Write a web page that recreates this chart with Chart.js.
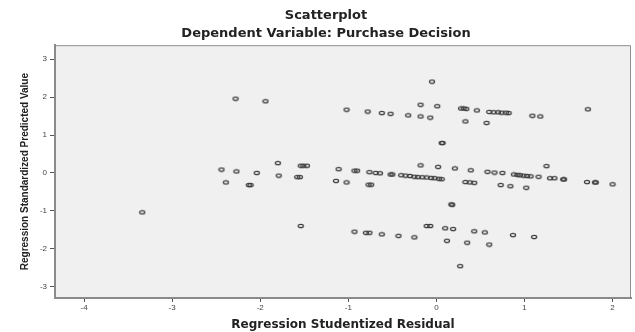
<!DOCTYPE html>
<html>
<head>
<meta charset="utf-8">
<script src="https://cdn.jsdelivr.net/npm/chart.js@4"></script>
<style>
  html, body { margin: 0; padding: 0; background: #fff; }
  canvas { display: block; }
</style>
</head>
<body>
<canvas id="scatter" width="635" height="332"></canvas>
<script>
// Regression Studentized Residual (x) vs Regression Standardized Predicted Value (y)
const residuals = [
  -3.34, -2.28, -2.44, -2.27, -2.04, -2.39, -2.13, -2.11, -1.94, -1.80,
  -1.54, -1.51, -1.47, -1.79, -1.58, -1.55, -1.54,
  -1.02, -0.78, -1.11, -0.93, -0.90, -0.76, -0.69, -1.14, -1.02, -0.77,
  -0.74, -0.93, -0.80, -0.76,
  -0.05, -0.18, 0.01, -0.62, -0.52, -0.32, -0.18, -0.07, 0.28, 0.31,
  0.34, 0.46, 0.33, 0.06, 0.07, -0.18, 0.02, 0.21, 0.39, -0.64,
  -0.52, -0.50, -0.40, -0.35, -0.30, -0.25, -0.21, -0.16, -0.11, -0.06,
  -0.02, 0.03, 0.06, 0.33, 0.38, 0.43, 0.17, 0.18, -0.62, -0.43,
  -0.25, -0.11, -0.07, 0.10, 0.19, 0.43, 0.12, 0.35, 0.27,
  0.60, 0.65, 0.70, 0.74, 0.79, 0.82, 1.09, 1.18, 0.57, 1.25,
  0.58, 0.66, 0.75, 0.88, 0.92, 0.95, 0.99, 1.03, 1.07, 1.16,
  1.29, 1.34, 1.44, 1.45, 0.73, 0.84, 1.02, 0.55, 0.87, 1.11, 0.60,
  1.72, 1.71, 1.80, 1.81, 2.00
];
const predicted = [
  -1.04, 1.96, 0.09, 0.04, 0.00, -0.25, -0.32, -0.32, 1.89, 0.26,
  0.19, 0.19, 0.19, -0.07, -0.11, -0.11, -1.40,
  1.67, 1.62, 0.10, 0.06, 0.06, 0.02, 0.00, -0.21, -0.25, -0.31,
  -0.31, -1.55, -1.58, -1.58,
  2.41, 1.80, 1.76, 1.58, 1.56, 1.52, 1.49, 1.46, 1.70, 1.70,
  1.69, 1.65, 1.36, 0.79, 0.79, 0.20, 0.16, 0.12, 0.07, -0.01,
  -0.04, -0.04, -0.06, -0.07, -0.08, -0.10, -0.11, -0.115, -0.12, -0.13,
  -0.14, -0.155, -0.165, -0.24, -0.25, -0.26, -0.83, -0.84, -1.62, -1.66,
  -1.70, -1.40, -1.40, -1.46, -1.48, -1.54, -1.79, -1.84, -2.46,
  1.61, 1.60, 1.60, 1.59, 1.59, 1.58, 1.51, 1.49, 1.32, 0.18,
  0.03, 0.01, 0.00, -0.04, -0.05, -0.06, -0.07, -0.08, -0.09, -0.10,
  -0.14, -0.14, -0.17, -0.17, -0.32, -0.35, -0.39, -1.57, -1.64, -1.69, -1.89,
  1.68, -0.24, -0.25, -0.25, -0.30
];
const xTickValues = [-4, -3, -2, -1, 0, 1, 2];
const yTickValues = [-3, -2, -1, 0, 1, 2, 3];

// open ellipse marker like the SPSS output (slightly stretched horizontally)
function ellipseMarker() {
  const c = document.createElement('canvas');
  c.width = 8;
  c.height = 6;
  const g = c.getContext('2d');
  g.strokeStyle = '#3c3c3c';
  g.lineWidth = 1.2;
  g.beginPath();
  g.ellipse(4, 3, 2.6, 1.7, 0, 0, Math.PI * 2);
  g.stroke();
  return c;
}

// grey plot background and the thin frame on top/right
const plotFrame = {
  id: 'plotFrame',
  beforeDraw(chart) {
    const { ctx, chartArea: a } = chart;
    ctx.save();
    ctx.fillStyle = '#f0f0f0';
    ctx.fillRect(a.left, a.top, a.right - a.left, a.bottom - a.top);
    ctx.strokeStyle = '#8f8f8f';
    ctx.lineWidth = 1;
    ctx.beginPath();
    ctx.moveTo(a.left, a.top + 0.5);
    ctx.lineTo(a.right - 0.5, a.top + 0.5);
    ctx.lineTo(a.right - 0.5, a.bottom);
    ctx.stroke();
    ctx.restore();
  }
};

const points = residuals.map((x, i) => ({ x: x, y: predicted[i] }));

const tickFont = { family: "'Liberation Sans', Arial, sans-serif", size: 8 };
const titleFont = { family: "'DejaVu Sans', sans-serif", size: 13, weight: 'bold' };

const config = {
  type: 'scatter',
  data: {
    datasets: [{
      data: points,
      pointStyle: ellipseMarker(),
      pointRadius: 3,
      pointHoverRadius: 3
    }]
  },
  options: {
    responsive: false,
    animation: false,
    devicePixelRatio: 1,
    layout: {
      padding: { left: 18, right: 1, top: 0, bottom: 0 }
    },
    plugins: {
      legend: { display: false },
      tooltip: { enabled: false },
      title: {
        display: true,
        text: 'Scatterplot',
        color: '#222',
        font: titleFont,
        padding: { top: 8, bottom: 2 }
      },
      subtitle: {
        display: true,
        text: 'Dependent Variable: Purchase Decision',
        color: '#222',
        font: titleFont,
        padding: { top: 0, bottom: 4 }
      }
    },
    scales: {
      x: {
        type: 'linear',
        min: -4.33,
        max: 2.21,
        afterBuildTicks: scale => {
          scale.ticks = xTickValues.map(v => ({ value: v }));
        },
        afterFit: scale => {
          scale.height = 34;
        },
        grid: {
          drawOnChartArea: false,
          drawTicks: true,
          tickLength: 4,
          tickColor: '#555'
        },
        border: { display: true, color: '#8a8a8a', width: 2 },
        ticks: {
          font: tickFont,
          color: '#444',
          padding: 1,
          maxRotation: 0
        },
        title: {
          display: true,
          text: 'Regression Studentized Residual',
          color: '#222',
          font: { family: "'DejaVu Sans', sans-serif", size: 12, weight: 'bold' },
          padding: { top: 0, bottom: 0 }
        }
      },
      y: {
        type: 'linear',
        min: -3.30,
        max: 3.37,
        afterBuildTicks: scale => {
          scale.ticks = yTickValues.map(v => ({ value: v }));
        },
        afterFit: scale => {
          scale.width = 37;
        },
        grid: {
          drawOnChartArea: false,
          drawTicks: true,
          tickLength: 5,
          tickColor: '#555'
        },
        border: { display: true, color: '#8a8a8a', width: 2 },
        ticks: {
          font: tickFont,
          color: '#444',
          padding: 3
        },
        title: {
          display: true,
          text: 'Regression Standardized Predicted Value',
          color: '#222',
          font: { family: "'Liberation Sans Narrow', 'Liberation Sans', sans-serif", size: 10, weight: 'bold' },
          padding: { top: 1, bottom: 0 }
        }
      }
    }
  },
  plugins: [plotFrame]
};

new Chart(document.getElementById('scatter'), config);
</script>
</body>
</html>
